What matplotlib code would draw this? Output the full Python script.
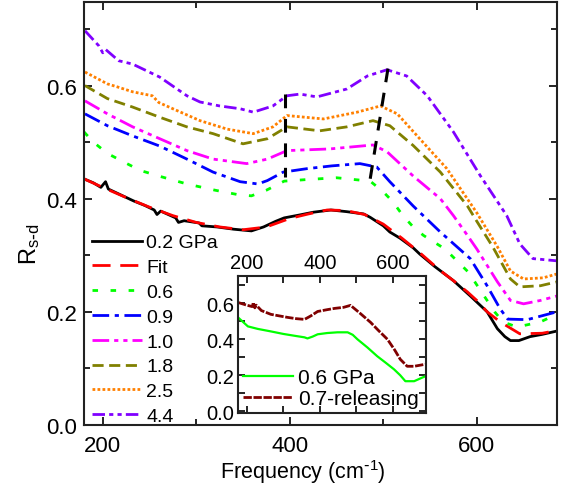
import matplotlib
matplotlib.use("Agg")
import matplotlib.pyplot as plt
from matplotlib.ticker import MultipleLocator

plt.rcParams['font.family'] = ['Liberation Sans', 'DejaVu Sans']
plt.rcParams['mathtext.default'] = 'regular'

# ---------------- data (main panel) ----------------
x_02 = [180, 190, 198, 203, 206, 215, 233, 245, 255, 258, 262, 278, 281, 287, 303, 306, 322, 340, 359, 372, 385, 394, 410, 425, 444, 461, 479, 486, 500, 507, 518, 532, 539, 555, 575, 593, 611, 622, 630, 636, 645, 657, 670, 686]
y_02 = [0.435, 0.428, 0.420, 0.430, 0.417, 0.410, 0.396, 0.388, 0.380, 0.372, 0.378, 0.366, 0.358, 0.361, 0.357, 0.352, 0.350, 0.346, 0.343, 0.350, 0.360, 0.366, 0.371, 0.376, 0.380, 0.377, 0.373, 0.367, 0.352, 0.341, 0.330, 0.313, 0.302, 0.280, 0.255, 0.228, 0.200, 0.170, 0.156, 0.149, 0.149, 0.156, 0.160, 0.166]

x_fit = [180, 200, 225, 250, 275, 300, 325, 350, 375, 400, 420, 440, 460, 480, 500, 520, 540, 560, 575, 590, 600, 611, 625, 646, 670, 686]
y_fit = [0.435, 0.420, 0.402, 0.385, 0.370, 0.358, 0.350, 0.345, 0.350, 0.365, 0.373, 0.380, 0.379, 0.372, 0.355, 0.330, 0.303, 0.274, 0.255, 0.235, 0.220, 0.200, 0.182, 0.161, 0.162, 0.167]

x_06 = [180, 190, 205, 220, 240, 260, 290, 320, 345, 359, 375, 394, 420, 450, 486, 500, 510, 521, 532, 543, 566, 591, 605, 619, 628, 643, 668, 686]
y_06 = [0.518, 0.500, 0.480, 0.467, 0.450, 0.440, 0.426, 0.415, 0.407, 0.405, 0.415, 0.431, 0.434, 0.437, 0.431, 0.412, 0.395, 0.370, 0.350, 0.335, 0.311, 0.270, 0.235, 0.200, 0.182, 0.173, 0.182, 0.196]

x_09 = [181, 205, 232, 261, 290, 318, 347, 366, 376, 393, 418, 445, 475, 493, 507, 532, 561, 593, 611, 625, 633, 654, 686]
y_09 = [0.550, 0.529, 0.511, 0.493, 0.470, 0.447, 0.430, 0.426, 0.432, 0.447, 0.453, 0.458, 0.462, 0.456, 0.430, 0.387, 0.341, 0.294, 0.246, 0.205, 0.187, 0.186, 0.200]

x_10 = [181, 205, 232, 261, 290, 318, 354, 376, 397, 443, 489, 504, 532, 561, 575, 590, 600, 622, 636, 650, 668, 686]
y_10 = [0.573, 0.550, 0.527, 0.506, 0.485, 0.470, 0.462, 0.470, 0.485, 0.488, 0.495, 0.483, 0.440, 0.400, 0.370, 0.335, 0.311, 0.253, 0.220, 0.214, 0.220, 0.228]

x_18 = [181, 205, 232, 261, 290, 318, 350, 376, 397, 432, 461, 489, 507, 532, 561, 590, 600, 617, 622, 636, 646, 668, 686]
y_18 = [0.600, 0.577, 0.562, 0.544, 0.527, 0.515, 0.497, 0.506, 0.527, 0.520, 0.527, 0.538, 0.529, 0.494, 0.447, 0.387, 0.360, 0.315, 0.300, 0.258, 0.244, 0.246, 0.253]

x_25 = [181, 205, 215, 232, 253, 260, 275, 304, 333, 361, 382, 397, 436, 472, 497, 515, 539, 568, 600, 622, 636, 650, 671, 686]
y_25 = [0.624, 0.603, 0.598, 0.589, 0.582, 0.570, 0.559, 0.538, 0.523, 0.515, 0.527, 0.547, 0.541, 0.553, 0.564, 0.550, 0.506, 0.453, 0.375, 0.315, 0.272, 0.258, 0.260, 0.267]

x_44 = [181, 196, 200, 203, 217, 232, 261, 290, 304, 325, 347, 361, 382, 397, 411, 429, 461, 483, 504, 525, 547, 575, 604, 632, 646, 660, 686]
y_44 = [0.697, 0.670, 0.658, 0.664, 0.644, 0.638, 0.615, 0.582, 0.571, 0.564, 0.559, 0.553, 0.564, 0.582, 0.585, 0.580, 0.594, 0.617, 0.628, 0.617, 0.582, 0.518, 0.440, 0.370, 0.320, 0.294, 0.290]

# guide lines (black dashed)
guide1_x = [395, 395]
guide1_y = [0.585, 0.438]
guide2_x = [505, 486]
guide2_y = [0.630, 0.435]

# ---------------- data (inset) ----------------
xi_06 = [176, 203, 230, 266, 300, 330, 358, 366, 380, 394, 420, 448, 476, 490, 503, 530, 557, 580, 603, 620, 634, 658, 688]
yi_06 = [0.522, 0.472, 0.458, 0.444, 0.430, 0.420, 0.411, 0.405, 0.415, 0.428, 0.435, 0.439, 0.439, 0.425, 0.400, 0.355, 0.306, 0.270, 0.233, 0.200, 0.167, 0.167, 0.194]

xi_07 = [176, 200, 215, 218, 222, 226, 240, 266, 290, 312, 335, 358, 375, 394, 420, 440, 465, 484, 510, 539, 560, 585, 605, 620, 639, 658, 688]
yi_07 = [0.605, 0.590, 0.582, 0.605, 0.575, 0.590, 0.560, 0.539, 0.530, 0.522, 0.515, 0.511, 0.530, 0.555, 0.565, 0.572, 0.578, 0.589, 0.545, 0.494, 0.450, 0.400, 0.340, 0.289, 0.250, 0.250, 0.261]

# ---------------- figure ----------------
fig = plt.figure(figsize=(5.64, 4.85), dpi=100)
ax = fig.add_axes([0.149, 0.122, 0.839, 0.872])

lw = 2.0
ax.plot(x_02, y_02, color='black', lw=lw, ls='-', label='0.2 GPa')
ax.plot(x_fit, y_fit, color='#FF0000', lw=lw, dashes=(6.5, 3.5), label='Fit')
ax.plot(x_06, y_06, color='#00FF00', lw=lw, dashes=(2, 4.5), label='0.6')
ax.plot(x_09, y_09, color='#0000FF', lw=lw, dashes=(6, 2, 1.5, 2), label='0.9')
ax.plot(x_10, y_10, color='#FF00FF', lw=lw, dashes=(6, 1.8, 1.5, 1.8, 1.5, 1.8), label='1.0')
ax.plot(x_18, y_18, color='#808000', lw=lw, dashes=(4, 2), label='1.8')
ax.plot(x_25, y_25, color='#FF8000', lw=lw, dashes=(1, 0.8), label='2.5')
ax.plot(x_44, y_44, color='#8000FF', lw=lw, dashes=(4.5, 1.5, 1.5, 1.5, 1.5, 1.5), label='4.4')

ax.plot(guide1_x, guide1_y, color='black', lw=2.2, dashes=(4.5, 3.5))
ax.plot(guide2_x, guide2_y, color='black', lw=2.2, dashes=(4.5, 3.5))

ax.set_xlim(180, 686)
ax.set_ylim(0.0, 0.748)
ax.xaxis.set_major_locator(MultipleLocator(200))
ax.xaxis.set_minor_locator(MultipleLocator(100))
ax.yaxis.set_major_locator(MultipleLocator(0.2))
ax.yaxis.set_minor_locator(MultipleLocator(0.1))
ax.yaxis.set_major_formatter(plt.FormatStrFormatter('%.1f'))
ax.tick_params(which='both', direction='in', top=True, right=True, width=1.2, labelsize=16)
ax.tick_params(axis='x', which='both', pad=7)
ax.tick_params(axis='y', which='both', pad=5)
ax.tick_params(which='major', length=6)
ax.tick_params(which='minor', length=4)
for s in ax.spines.values():
    s.set_linewidth(1.5)
    s.set_color('#222222')

ax.set_xlabel(r'Frequency (cm$^{\text{-}1}$)', fontsize=15.5)
ax.set_ylabel(r'R$_{s\text{-}d}$', fontsize=17)
ax.xaxis.set_label_coords(0.463, -0.076)
ax.yaxis.set_label_coords(-0.088, 0.43)

leg = ax.legend(loc='upper left', bbox_to_anchor=(0.0, 0.47), frameon=False,
                fontsize=14, handlelength=2.6, handletextpad=0.2, labelspacing=0.37,
                borderaxespad=0.2, borderpad=0.2)

# ---------------- inset ----------------
axi = fig.add_axes([0.422, 0.146, 0.333, 0.282])
axi.plot(xi_06, yi_06, color='#00FF00', lw=1.6, ls='-', label='0.6 GPa')
axi.plot(xi_07, yi_07, color='#800000', lw=2.0, dashes=(3, 0.6), label='0.7-releasing')
axi.set_xlim(176, 690)
axi.set_ylim(-0.011, 0.75)
axi.xaxis.set_major_locator(MultipleLocator(200))
axi.xaxis.set_minor_locator(MultipleLocator(100))
axi.yaxis.set_major_locator(MultipleLocator(0.2))
axi.yaxis.set_minor_locator(MultipleLocator(0.1))
axi.yaxis.set_major_formatter(plt.FormatStrFormatter('%.1f'))
axi.tick_params(which='both', direction='in', top=True, right=True, bottom=True, left=True,
                labeltop=True, labelbottom=False, width=1.2, labelsize=14.5, pad=3)
axi.tick_params(which='major', length=5)
axi.tick_params(which='minor', length=5)
for s in axi.spines.values():
    s.set_linewidth(1.5)
    s.set_color('#222222')
axi.legend(loc='lower left', frameon=False, fontsize=15, handlelength=2.4,
           handletextpad=0.25, labelspacing=0.1, borderaxespad=0.1, borderpad=0.15)

fig.savefig('out.png', dpi=100)
